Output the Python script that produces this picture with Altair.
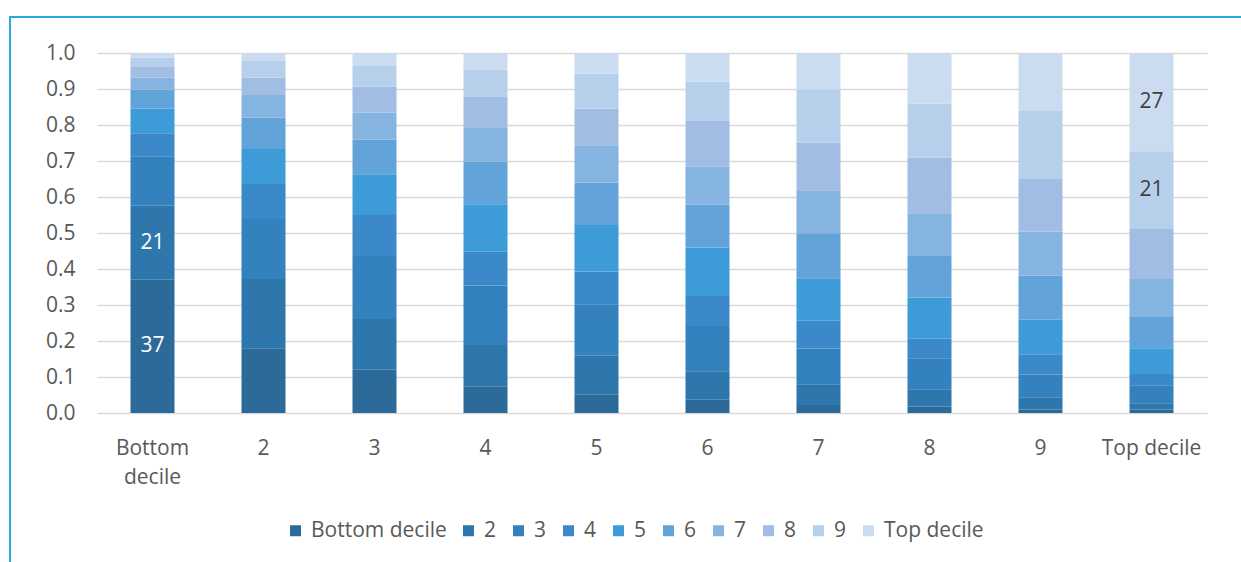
import altair as alt
import pandas as pd

groups = ["Bottom decile", "2", "3", "4", "5", "6", "7", "8", "9", "Top decile"]
deciles = ["Bottom decile", "2", "3", "4", "5", "6", "7", "8", "9", "Top decile"]
y_ticks = [0.0, 0.1, 0.2, 0.3, 0.4, 0.5, 0.6, 0.7, 0.8, 0.9, 1.0]

# share of each decile (bottom -> top) within each group bar
shares = {
    "Bottom decile": [0.370, 0.206, 0.137, 0.064, 0.069, 0.052, 0.033, 0.032, 0.024, 0.013],
    "2":             [0.180, 0.192, 0.167, 0.097, 0.097, 0.088, 0.062, 0.049, 0.046, 0.022],
    "3":             [0.120, 0.141, 0.175, 0.114, 0.113, 0.097, 0.075, 0.071, 0.058, 0.036],
    "4":             [0.074, 0.115, 0.165, 0.094, 0.132, 0.118, 0.094, 0.086, 0.076, 0.046],
    "5":             [0.052, 0.107, 0.143, 0.091, 0.129, 0.118, 0.104, 0.102, 0.097, 0.057],
    "6":             [0.037, 0.079, 0.126, 0.083, 0.135, 0.119, 0.105, 0.127, 0.110, 0.079],
    "7":             [0.022, 0.058, 0.099, 0.077, 0.118, 0.125, 0.120, 0.132, 0.148, 0.101],
    "8":             [0.018, 0.048, 0.086, 0.054, 0.115, 0.115, 0.119, 0.154, 0.151, 0.140],
    "9":             [0.010, 0.034, 0.063, 0.056, 0.096, 0.123, 0.122, 0.148, 0.187, 0.161],
    "Top decile":    [0.010, 0.017, 0.050, 0.031, 0.072, 0.087, 0.105, 0.141, 0.214, 0.273],
}

# which segments carry a data label: (group, decile)
labelled = [("Bottom decile", "Bottom decile"), ("Bottom decile", "2"),
            ("Top decile", "9"), ("Top decile", "Top decile")]

colors = ["#2c6a9a", "#2e77ad", "#3381bd", "#3b89c8", "#3d9bd7",
          "#62a3d9", "#86b4e0", "#a1bde3", "#b6cfeb", "#ccdcf0"]

rows = []
for g in groups:
    for i, d in enumerate(deciles):
        v = shares[g][i]
        lab = str(round(v * 100)) if (g, d) in labelled else ""
        rows.append({"group": g, "decile": d, "order": i, "value": v, "label": lab,
                     "light": i >= 5})
df = pd.DataFrame(rows)

FONT = "Open Sans"
GRAY = "#595959"
FS = 21

x_axis = alt.Axis(labelAngle=0, ticks=False, domain=False, labelPadding=24,
                  labelFontSize=FS, labelColor=GRAY, labelFont=FONT,
                  labelLineHeight=29,
                  labelExpr="datum.label == 'Bottom decile' ? ['Bottom', 'decile'] : datum.label")
y_axis = alt.Axis(values=y_ticks, format=".1f", ticks=False,
                  domain=False, labelPadding=22, labelFontSize=FS,
                  labelOverlap=False, labelColor=GRAY, labelFont=FONT,
                  gridColor="#d9d9d9", gridWidth=1.5)
y_scale = alt.Scale(domain=[0, 1], nice=False)

base = alt.Chart(df).transform_stack(
    stack="value", groupby=["group"], sort=[alt.SortField("order")], as_=["y0", "y1"]
).transform_calculate(mid="(datum.y0 + datum.y1) / 2")

bars = base.mark_bar(size=44).encode(
    x=alt.X("group:N", sort=groups, title=None, axis=x_axis),
    y=alt.Y("y0:Q", title=None, scale=y_scale, axis=y_axis),
    y2="y1:Q",
    color=alt.Color("decile:N", sort=deciles,
                    scale=alt.Scale(domain=deciles, range=colors),
                    legend=alt.Legend(title=None, orient="none", direction="horizontal",
                                      columns=10, legendX=188, legendY=467,
                                      symbolType="square", symbolSize=121,
                                      symbolStrokeWidth=0, labelFontSize=FS,
                                      labelColor=GRAY, labelFont=FONT, labelOffset=5,
                                      columnPadding=11)),
    order=alt.Order("order:Q"),
)

text = base.transform_filter("datum.label != ''").mark_text(
    fontSize=FS, font=FONT
).encode(
    x=alt.X("group:N", sort=groups, title=None, axis=x_axis),
    y=alt.Y("mid:Q", title=None, scale=y_scale, axis=y_axis),
    text="label:N",
    color=alt.condition("datum.light", alt.value("#404040"), alt.value("white")),
)

frame_left = alt.Chart(df).mark_rule(color="#2ba8e0", strokeWidth=2).encode(
    x=alt.value(-87), y=alt.value(-36), y2=alt.value(520)
)
frame_top = alt.Chart(df).mark_rule(color="#2ba8e0", strokeWidth=2).encode(
    x=alt.value(-88), x2=alt.value(1150), y=alt.value(-36)
)

chart = alt.layer(bars, text, frame_left, frame_top).properties(
    width=1110, height=360,
    autosize=alt.AutoSizeParams(type="none"),
    padding={"left": 97, "top": 53, "right": 34, "bottom": 149},
    background="white",
).configure_view(stroke=None)

chart.save("out.html", embed_options={"renderer": "svg", "actions": False})
